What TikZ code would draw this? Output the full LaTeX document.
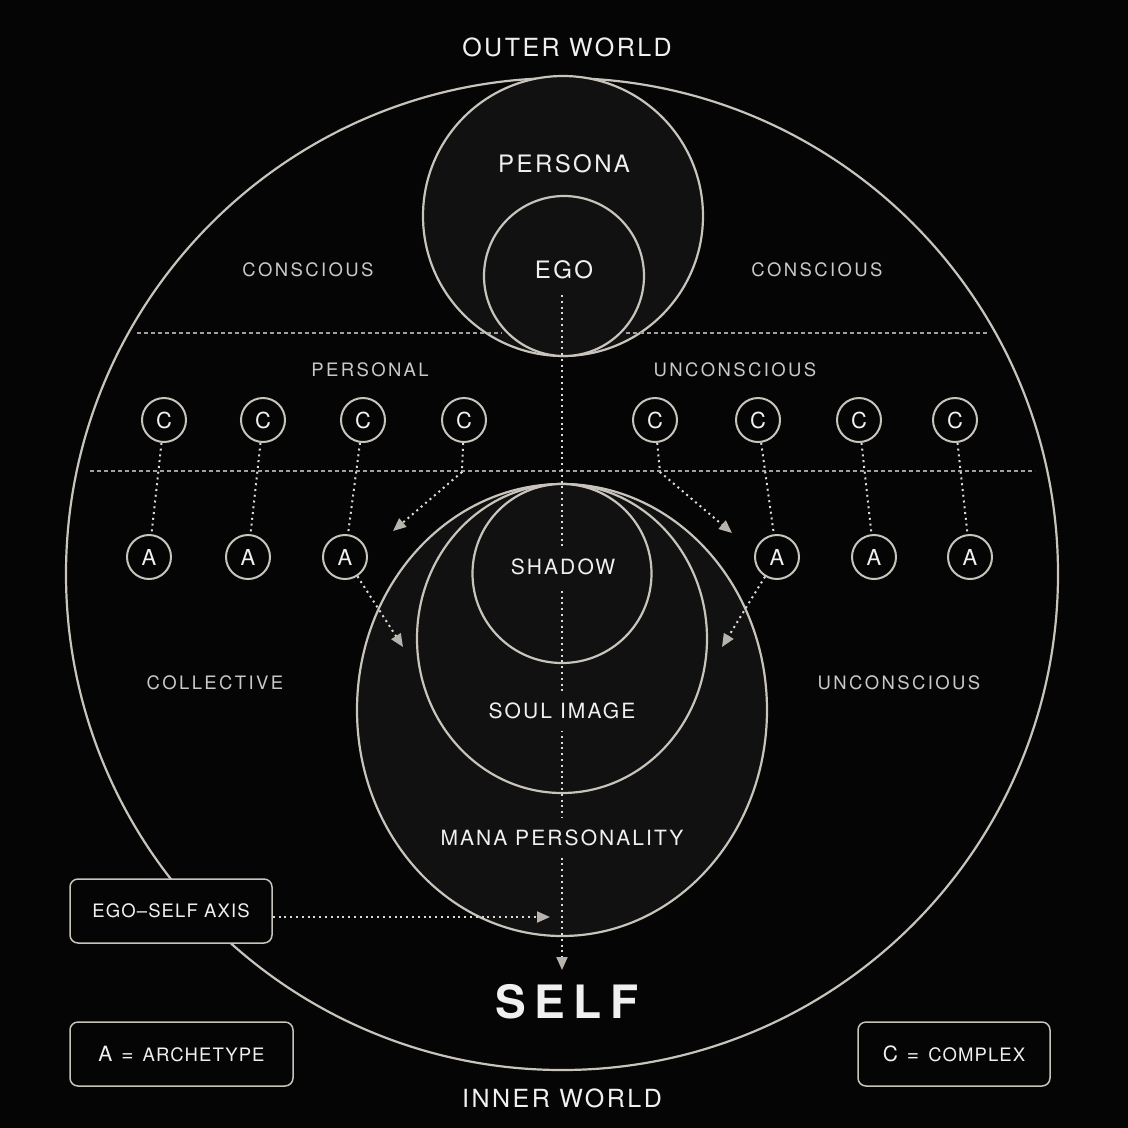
\documentclass[tikz,border=0pt]{standalone}
\usepackage{fontspec}
\setmainfont{TeX Gyre Heros}
\newfontfamily\lsmain[LetterSpace=10]{TeX Gyre Heros}
\newfontfamily\lssmall[LetterSpace=13]{TeX Gyre Heros}
\newfontfamily\lsbox[LetterSpace=6]{TeX Gyre Heros}
\newfontfamily\lsself[LetterSpace=19]{TeX Gyre Heros}
\usetikzlibrary{arrows.meta}
\definecolor{bg}{HTML}{050505}
\definecolor{cfill}{HTML}{111111}
\definecolor{ln}{HTML}{C8C4BC}
\definecolor{txt}{HTML}{F0F0F0}
\definecolor{sub}{HTML}{C9C9C9}
\definecolor{dotc}{HTML}{DADADA}
\definecolor{tipc}{HTML}{B8B4AD}
\tikzset{
  ring/.style={draw=ln, line width=2.2pt},
  divider/.style={draw=sub!80!black, line width=1.3pt, dash pattern=on 4pt off 3pt},
  conn/.style={draw=dotc, line width=2pt, dash pattern=on 2pt off 3.8pt},
  tipped/.style={-{Triangle[length=13pt,width=11pt,fill=tipc,color=tipc]}},
  bigtxt/.style={text=txt, font=\lsmain\fontsize{25}{30}\selectfont, inner sep=0pt},
  midtxt/.style={text=txt, font=\lsmain\fontsize{21}{25}\selectfont, fill=cfill, inner xsep=6pt, inner ysep=12pt},
  smalltxt/.style={text=sub, font=\lssmall\fontsize{18.5}{22}\selectfont, inner sep=0pt},
  letnode/.style={circle, draw=ln, line width=2pt, fill=bg, minimum size=44pt, inner sep=0pt, text=txt, font=\fontsize{22}{24}\selectfont},
  legend/.style={draw=ln, line width=1.5pt, rounded corners=8pt, fill=bg, minimum height=64pt, inner sep=0pt, text=txt},
}
\begin{document}
\begin{tikzpicture}[x=1pt,y=-1pt]
\fill[bg] (0,0) rectangle (1128,1128);
\useasboundingbox (0,0) rectangle (1128,1128);

% outer circle
\draw[ring] (562,574) circle[radius=496pt];

% persona and ego
\filldraw[ring, fill=cfill] (563,216) circle[radius=140pt];
\filldraw[ring, fill=cfill] (564,276) circle[radius=80pt];

% lower nested circles
\filldraw[ring, fill=cfill] (562,710) ellipse[x radius=205pt, y radius=226pt];
\filldraw[ring, fill=cfill] (562,638.5) ellipse[x radius=145pt, y radius=154.5pt];
\filldraw[ring, fill=cfill] (562,573.5) circle[radius=89.5pt];

% dividing lines
\draw[divider] (137,333) -- (502,333);
\draw[divider] (626,333) -- (987,333);
\draw[divider] (90,471) -- (1035,471);

% ego-self axis
\coordinate (axtop) at (562,295);
\coordinate (axbot) at (562,970);
\draw[conn, tipped] (axtop) -- (axbot);

% labels
\node[bigtxt] (outer) at (567,47) {OUTER WORLD};
\node[bigtxt] (inner) at (562,1098) {INNER WORLD};
\node[bigtxt, font=\lsmain\fontsize{24}{28}\selectfont] (persona) at (564,164) {PERSONA};
\node[bigtxt, font=\lsmain\fontsize{24}{28}\selectfont] (ego) at (564,270) {EGO};
\node[smalltxt] (consL) at (308,270) {CONSCIOUS};
\node[smalltxt] (consR) at (817,270) {CONSCIOUS};
\node[smalltxt] (persL) at (370,370) {PERSONAL};
\node[smalltxt] (uncR) at (735,370) {UNCONSCIOUS};
\node[smalltxt] (collL) at (215,683) {COLLECTIVE};
\node[smalltxt] (uncR2) at (899,683) {UNCONSCIOUS};
\node[midtxt] (shadow) at (563,567) {SHADOW};
\node[midtxt] (soul) at (562,711) {SOUL IMAGE};
\node[midtxt] (mana) at (562,838) {MANA PERSONALITY};
\node[text=txt, font=\lsself\bfseries\fontsize{46}{50}\selectfont, inner sep=0pt] (self) at (567,1002) {SELF};

% complexes
\node[letnode] (c1) at (164,420) {C};
\node[letnode] (c2) at (263,420) {C};
\node[letnode] (c3) at (363,420) {C};
\node[letnode] (c4) at (464,420) {C};
\node[letnode] (c5) at (655,420) {C};
\node[letnode] (c6) at (758,420) {C};
\node[letnode] (c7) at (859,420) {C};
\node[letnode] (c8) at (955,420) {C};
% archetypes
\node[letnode] (a1) at (149,557) {A};
\node[letnode] (a2) at (248,557) {A};
\node[letnode] (a3) at (345,557) {A};
\node[letnode] (a4) at (777,557) {A};
\node[letnode] (a5) at (874,557) {A};
\node[letnode] (a6) at (970,557) {A};

% connectors
\draw[conn] (c1) -- (a1);
\draw[conn] (c2) -- (a2);
\draw[conn] (c3) -- (a3);
\draw[conn] (c6) -- (a4);
\draw[conn] (c7) -- (a5);
\draw[conn] (c8) -- (a6);
\coordinate (bendL) at (462,472);
\coordinate (tipL) at (393,531);
\coordinate (bendR) at (660,472);
\coordinate (tipR) at (732,533);
\draw[conn, tipped] (c4) -- (bendL) -- (tipL);
\draw[conn, tipped] (c5) -- (bendR) -- (tipR);
\coordinate (tipA3) at (403,647);
\coordinate (tipA4) at (722,647);
\draw[conn, tipped] (a3) -- (tipA3);
\draw[conn, tipped] (a4) -- (tipA4);

% legend boxes
\node[legend, minimum width=202pt] (axisbox) at (171,911)
  {\lsbox\fontsize{18.5}{22}\selectfont EGO–SELF AXIS};
\node[legend, minimum width=223pt] (abox) at (181.5,1054)
  {\fontsize{21}{24}\selectfont A\hspace{9pt}=\hspace{9pt}\lsbox\fontsize{18.5}{22}\selectfont ARCHETYPE};
\node[legend, minimum width=192pt] (cbox) at (954,1054)
  {\fontsize{21}{24}\selectfont C\hspace{9pt}=\hspace{9pt}\lsbox\fontsize{18.5}{22}\selectfont COMPLEX};
\coordinate (axtip) at (550,917);
\draw[conn, tipped] (axisbox.east |- axtip) -- (axtip);
\end{tikzpicture}
\end{document}
